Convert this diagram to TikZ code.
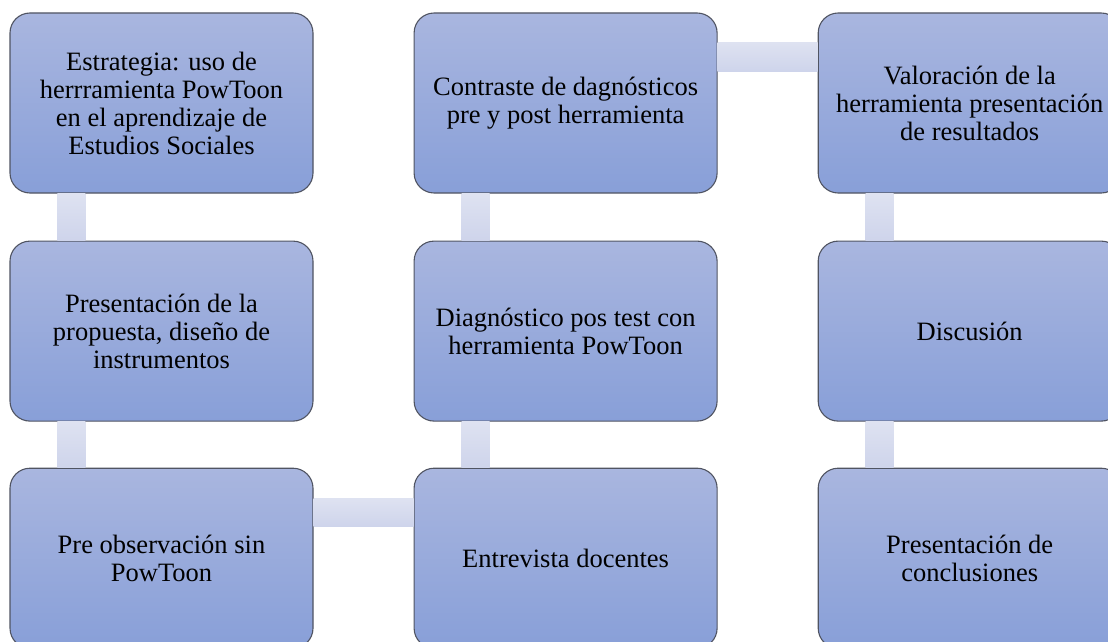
\documentclass[tikz,border=0pt]{standalone}
\usepackage{fontspec}
\setmainfont{Liberation Serif}
\usepackage{tikz}
\usetikzlibrary{positioning}
\usepackage{xcolor}
\definecolor{boxtop}{RGB}{169,182,223}
\definecolor{boxbot}{RGB}{136,159,216}
\definecolor{boxedge}{RGB}{80,84,98}
\definecolor{linktop}{RGB}{222,226,241}
\definecolor{linkbot}{RGB}{206,212,235}
\tikzstyle{block} = [rectangle, draw=boxedge, line width=1.1pt, top color=boxtop, bottom color=boxbot, align=center, rounded corners=20pt, minimum width=303pt, minimum height=180pt, inner sep=0pt, font=\fontsize{26.5}{28}\selectfont]
\tikzstyle{link} = [top color=linktop, bottom color=linkbot, draw=none]

\begin{document}
\begin{tikzpicture}[x=1pt, y=1pt]
	\useasboundingbox (0,0) rectangle (1108,-642);
	%% Estrategia
	\node[block] (EST) at (161.5,-103) {Estrategia: uso de\\herrramienta PowToon\\en el aprendizaje de\\Estudios Sociales};
	%% propuesta
	\node[block, below=47pt of EST] (PROP) {Presentación de la\\propuesta, diseño de\\instrumentos};
	%% pre observacion
	\node[block, below=46pt of PROP] (PRE) {Pre observación sin\\PowToon};
	%% entrevista
	\node[block, right=100pt of PRE] (ENT) {Entrevista docentes};
	%% diagnostico
	\node[block, above=46pt of ENT] (DIAG) {Diagnóstico pos test con\\herramienta PowToon};
	%% contraste
	\node[block, above=47pt of DIAG] (CONT) {Contraste de dagnósticos\\pre y post herramienta};
	%% valoracion
	\node[block, right=100pt of CONT] (VAL) {Valoración de la\\herramienta presentación\\de resultados};
	%% discusion
	\node[block, below=47pt of VAL] (DIS) {Discusión};
	%% conclusiones
	\node[block, below=46pt of DIS] (CONC) {Presentación de\\conclusiones};
	%% edges
	\path[link] ([xshift=48pt]EST.south west) rectangle ([xshift=76pt]PROP.north west);
	\path[link] ([xshift=48pt]PROP.south west) rectangle ([xshift=76pt]PRE.north west);
	\path[link] ([yshift=-31pt]PRE.north east) rectangle ([yshift=-59pt]ENT.north west);
	\path[link] ([xshift=48pt]ENT.north west) rectangle ([xshift=76pt]DIAG.south west);
	\path[link] ([xshift=48pt]DIAG.north west) rectangle ([xshift=76pt]CONT.south west);
	\path[link] ([yshift=-30pt]CONT.north east) rectangle ([yshift=-59pt]VAL.north west);
	\path[link] ([xshift=48pt]VAL.south west) rectangle ([xshift=76pt]DIS.north west);
	\path[link] ([xshift=48pt]DIS.south west) rectangle ([xshift=76pt]CONC.north west);

\end{tikzpicture}
\end{document}
